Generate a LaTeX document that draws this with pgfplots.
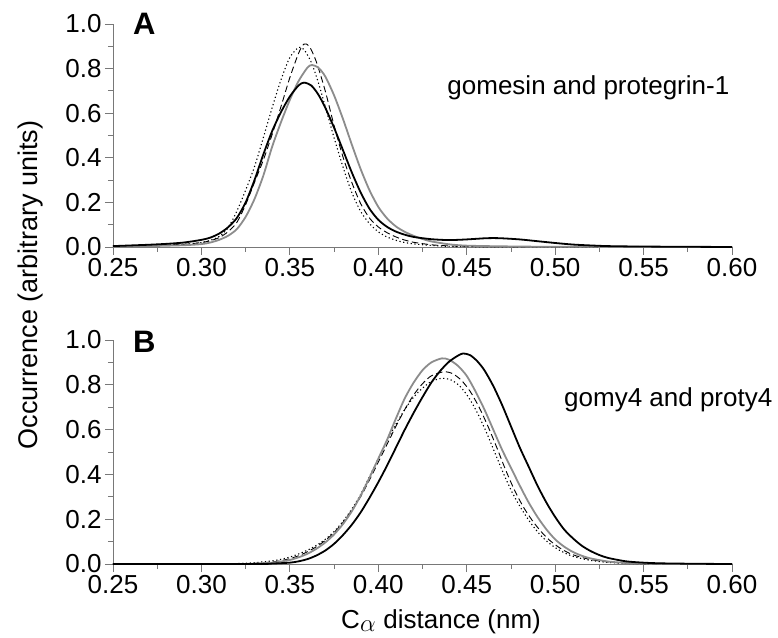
\documentclass[border=0pt]{standalone}
\usepackage{fontspec}
\setmainfont{Liberation Sans}
\usepackage{pgfplots}
\pgfplotsset{compat=1.18}
\definecolor{curvegray}{RGB}{140,140,140}
\definecolor{axgray}{RGB}{120,120,120}
\pgfplotsset{
  panel/.style={
    width=619pt, height=223pt, scale only axis,
    xmin=0.25, xmax=0.6, ymin=0, ymax=1,
    axis x line*=bottom, axis y line*=left,
    axis line style={axgray, line width=0.8pt},
    xtick={0.25,0.3,0.35,0.4,0.45,0.5,0.55,0.6},
    minor xtick={0.275,0.325,0.375,0.425,0.475,0.525,0.575},
    ytick={0,0.2,0.4,0.6,0.8,1},
    minor ytick={0.1,0.3,0.5,0.7,0.9},
    tick align=outside, major tick length=8pt, minor tick length=5pt,
    tick style={axgray, line width=0.8pt},
    /pgf/number format/assume math mode=true,
    xticklabel style={/pgf/number format/fixed, /pgf/number format/fixed zerofill, /pgf/number format/precision=2},
    yticklabel style={/pgf/number format/fixed, /pgf/number format/fixed zerofill, /pgf/number format/precision=1},
    tick label style={font=\fontsize{26}{30}\selectfont, black},
    clip=false,
  },
  blk/.style={black, line width=1.8pt, smooth, tension=0.45},
  gry/.style={curvegray, line width=1.8pt, smooth, tension=0.45},
  dsh/.style={black, line width=0.9pt, dash pattern=on 6.5pt off 3.5pt, smooth, tension=0.45},
  dot/.style={black, line width=1.1pt, dash pattern=on 1.2pt off 2.6pt, smooth, tension=0.45},
}
\begin{document}
\begin{tikzpicture}
\path[use as bounding box] (-113pt,-73pt) rectangle (665pt,564pt);
% ---------------- Panel A ----------------
\begin{axis}[panel, at={(0pt,317pt)}, anchor=origin]
\addplot[dot] coordinates {
(0.250,0.003)(0.270,0.006)(0.290,0.012)(0.300,0.020)(0.305,0.030)(0.310,0.047)(0.315,0.085)(0.320,0.160)(0.325,0.255)(0.330,0.360)(0.335,0.490)(0.340,0.625)(0.345,0.750)(0.350,0.850)(0.355,0.895)(0.358,0.885)(0.362,0.830)(0.366,0.740)(0.370,0.630)(0.375,0.490)(0.380,0.360)(0.385,0.245)(0.390,0.160)(0.395,0.105)(0.400,0.068)(0.405,0.045)(0.410,0.030)(0.415,0.020)(0.420,0.014)(0.430,0.007)(0.440,0.003)(0.460,0.001)(0.500,0.000)(0.600,0.000)};
\addplot[dsh] coordinates {
(0.250,0.003)(0.270,0.006)(0.290,0.012)(0.300,0.020)(0.305,0.028)(0.310,0.042)(0.315,0.068)(0.320,0.110)(0.325,0.190)(0.330,0.290)(0.335,0.390)(0.340,0.505)(0.345,0.630)(0.350,0.760)(0.355,0.870)(0.358,0.910)(0.361,0.900)(0.365,0.830)(0.370,0.700)(0.375,0.545)(0.380,0.405)(0.385,0.290)(0.390,0.195)(0.395,0.130)(0.400,0.090)(0.405,0.064)(0.410,0.045)(0.415,0.031)(0.420,0.021)(0.430,0.010)(0.440,0.005)(0.460,0.002)(0.500,0.000)(0.600,0.000)};
\addplot[gry] coordinates {
(0.250,0.002)(0.270,0.004)(0.290,0.008)(0.300,0.013)(0.305,0.020)(0.310,0.032)(0.315,0.050)(0.320,0.080)(0.325,0.135)(0.330,0.215)(0.335,0.320)(0.340,0.450)(0.345,0.560)(0.350,0.660)(0.355,0.745)(0.360,0.805)(0.3625,0.816)(0.366,0.805)(0.370,0.765)(0.375,0.680)(0.380,0.575)(0.385,0.460)(0.390,0.350)(0.395,0.255)(0.400,0.180)(0.405,0.128)(0.410,0.092)(0.415,0.068)(0.420,0.050)(0.425,0.036)(0.430,0.025)(0.440,0.012)(0.450,0.006)(0.470,0.003)(0.500,0.001)(0.600,0.000)};
\addplot[blk] coordinates {
(0.250,0.004)(0.260,0.007)(0.270,0.010)(0.280,0.014)(0.290,0.020)(0.300,0.032)(0.305,0.042)(0.310,0.060)(0.315,0.088)(0.320,0.130)(0.325,0.200)(0.330,0.300)(0.335,0.415)(0.340,0.520)(0.345,0.605)(0.350,0.675)(0.355,0.725)(0.358,0.737)(0.362,0.725)(0.366,0.685)(0.370,0.625)(0.375,0.535)(0.380,0.435)(0.385,0.335)(0.390,0.245)(0.395,0.172)(0.400,0.122)(0.405,0.090)(0.410,0.069)(0.415,0.055)(0.420,0.045)(0.430,0.035)(0.440,0.031)(0.450,0.034)(0.460,0.039)(0.465,0.040)(0.470,0.039)(0.480,0.034)(0.490,0.026)(0.500,0.018)(0.510,0.011)(0.520,0.007)(0.530,0.004)(0.550,0.002)(0.600,0.000)};
\node[anchor=base west, inner sep=0pt, font=\bfseries\fontsize{31}{31}\selectfont] at (rel axis cs:0.032,0.951) {A};
\node[anchor=base west, inner sep=0pt, font=\fontsize{26}{30}\selectfont] at (rel axis cs:0.54,0.686) {gomesin and protegrin-1};
\end{axis}
% ---------------- Panel B ----------------
\begin{axis}[panel, height=224pt, at={(0pt,0pt)}, anchor=origin]
\addplot[dot] coordinates {
(0.250,0.000)(0.310,0.000)(0.320,0.002)(0.330,0.006)(0.340,0.014)(0.345,0.021)(0.350,0.031)(0.355,0.045)(0.360,0.062)(0.365,0.083)(0.370,0.110)(0.375,0.145)(0.380,0.190)(0.385,0.245)(0.390,0.310)(0.395,0.390)(0.400,0.470)(0.405,0.550)(0.410,0.625)(0.415,0.690)(0.420,0.745)(0.425,0.785)(0.430,0.815)(0.436,0.829)(0.441,0.822)(0.446,0.795)(0.451,0.745)(0.456,0.675)(0.461,0.590)(0.466,0.495)(0.471,0.400)(0.476,0.315)(0.481,0.245)(0.486,0.185)(0.491,0.135)(0.496,0.097)(0.501,0.068)(0.506,0.047)(0.511,0.032)(0.520,0.016)(0.530,0.007)(0.540,0.003)(0.550,0.001)(0.570,0.000)(0.600,0.000)};
\addplot[dsh] coordinates {
(0.250,0.000)(0.320,0.000)(0.330,0.003)(0.340,0.009)(0.345,0.015)(0.350,0.024)(0.355,0.037)(0.360,0.055)(0.365,0.077)(0.370,0.105)(0.375,0.140)(0.380,0.185)(0.385,0.240)(0.390,0.300)(0.395,0.375)(0.400,0.455)(0.405,0.535)(0.410,0.615)(0.415,0.690)(0.420,0.755)(0.425,0.805)(0.430,0.840)(0.437,0.858)(0.442,0.850)(0.447,0.820)(0.452,0.770)(0.457,0.700)(0.462,0.615)(0.467,0.520)(0.472,0.420)(0.477,0.330)(0.482,0.255)(0.487,0.195)(0.492,0.145)(0.497,0.105)(0.502,0.075)(0.507,0.052)(0.512,0.036)(0.520,0.020)(0.530,0.009)(0.540,0.004)(0.550,0.001)(0.570,0.000)(0.600,0.000)};
\addplot[gry] coordinates {
(0.250,0.000)(0.320,0.000)(0.330,0.002)(0.340,0.006)(0.345,0.011)(0.350,0.018)(0.355,0.030)(0.360,0.046)(0.365,0.068)(0.370,0.096)(0.375,0.132)(0.380,0.178)(0.385,0.235)(0.390,0.305)(0.395,0.385)(0.400,0.470)(0.405,0.555)(0.410,0.650)(0.415,0.740)(0.420,0.810)(0.425,0.865)(0.430,0.900)(0.436,0.918)(0.440,0.912)(0.445,0.885)(0.450,0.840)(0.455,0.770)(0.460,0.690)(0.465,0.600)(0.470,0.510)(0.475,0.430)(0.480,0.350)(0.485,0.275)(0.490,0.210)(0.495,0.155)(0.500,0.110)(0.505,0.078)(0.510,0.054)(0.515,0.037)(0.520,0.025)(0.530,0.011)(0.540,0.005)(0.550,0.002)(0.570,0.000)(0.600,0.000)};
\addplot[blk] coordinates {
(0.250,0.000)(0.330,0.000)(0.340,0.002)(0.350,0.006)(0.355,0.012)(0.360,0.022)(0.365,0.038)(0.370,0.060)(0.375,0.090)(0.380,0.129)(0.385,0.175)(0.390,0.230)(0.395,0.295)(0.400,0.365)(0.405,0.440)(0.410,0.520)(0.415,0.600)(0.420,0.675)(0.425,0.745)(0.430,0.810)(0.435,0.862)(0.440,0.903)(0.445,0.930)(0.448,0.940)(0.452,0.932)(0.456,0.905)(0.460,0.865)(0.465,0.795)(0.470,0.710)(0.475,0.615)(0.480,0.520)(0.485,0.435)(0.490,0.350)(0.495,0.275)(0.500,0.210)(0.505,0.155)(0.510,0.115)(0.515,0.082)(0.520,0.058)(0.525,0.040)(0.530,0.027)(0.540,0.012)(0.550,0.006)(0.560,0.003)(0.580,0.001)(0.600,0.000)};
\node[anchor=base west, inner sep=0pt, font=\bfseries\fontsize{31}{31}\selectfont] at (rel axis cs:0.032,0.942) {B};
\node[anchor=base west, inner sep=0pt, font=\fontsize{26}{30}\selectfont] at (rel axis cs:0.7286,0.705) {gomy4 and proty4};
\node[anchor=base, inner sep=0pt, font=\fontsize{26}{30}\selectfont] at (rel axis cs:0.53,0) [yshift=-64pt] {C$_{\textstyle\alpha}$ distance (nm)};
\end{axis}
\node[rotate=90, anchor=center, inner sep=0pt, font=\fontsize{27}{30}\selectfont] at (-82pt,279pt) {Occurrence (arbitrary units)};
\end{tikzpicture}
\end{document}
